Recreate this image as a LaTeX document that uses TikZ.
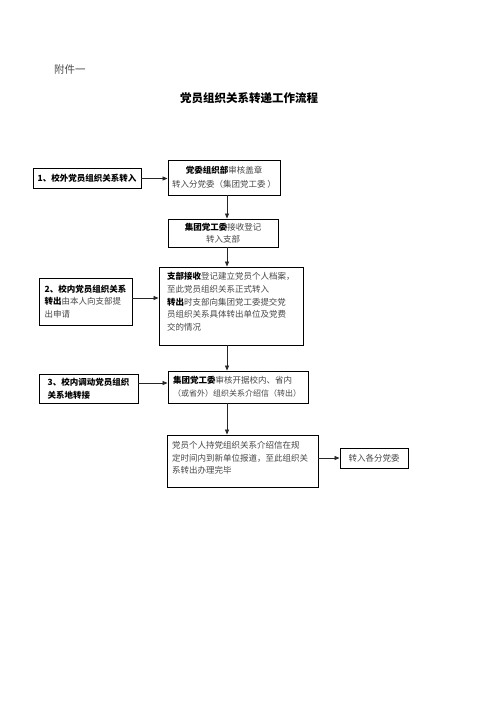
\documentclass[tikz,border=0pt]{standalone}
\usepackage{fontspec}
\setmainfont{Noto Sans CJK SC}
\usetikzlibrary{arrows.meta}
\XeTeXlinebreaklocale "zh"
\XeTeXlinebreakskip=0pt plus 1pt
\newcommand\jl[2]{\hbox to #1pt{#2}}
\newcommand\bk[1]{{\bfseries\color{black}#1}}
\begin{document}
\begin{tikzpicture}[x=1pt,y=-1pt,
  every node/.style={font=\fontsize{8.5pt}{12.6pt}\selectfont},
  box/.style={draw=black, line width=0.9pt, rectangle, inner sep=0pt, align=center, text=black!72},
  txt/.style={inner sep=0pt, align=left, text=black!72},
  arr/.style={draw=black!85, line width=0.8pt, -{Triangle[length=5pt,width=4pt]}}]
\fill[white] (0,0) rectangle (496,702);
\useasboundingbox (0,0) rectangle (496,702);

\node[font=\fontsize{10.5pt}{12pt}\selectfont, text=black!70, anchor=west, inner sep=0pt] (att) at (54,70) {附件一};
\node[font=\fontsize{11.5pt}{14pt}\selectfont\bfseries, anchor=west, inner sep=0pt] (title) at (180,98) {党员组织关系转递工作流程};

\node[box, minimum width=108pt, minimum height=20pt] (A) at (87,178.5) {\bk{1、校外党员组织关系转入}};
\node[box, minimum width=112pt, minimum height=35pt, font=\fontsize{8.5pt}{14.3pt}\selectfont] (B) at (224,177.5) {\bk{党委组织部}审核盖章\\转入分党委（集团党工委 ）};
\node[box, minimum width=110pt, minimum height=28pt] (C) at (223,233) {\bk{集团党工委}接收登记\\转入支部};
\node[box, align=left, minimum width=93pt, minimum height=47pt] (D) at (85.5,301.5) {\bk{2、校内党员组织关系}\\\bk{转出}由本人向支部提\\出申请};
\node[box, minimum width=144pt, minimum height=78pt] (E) at (231,306) {};
\node[txt] (Et) at (233,301.7) {\jl{131}{\bk{支部接收}登记建立党员个人档案，}\\至此党员组织关系正式转入\\\jl{130}{\bk{转出}时支部向集团党工委提交党}\\\jl{132}{员组织关系具体转出单位及党费}\\交的情况};
\node[box, align=left, minimum width=99pt, minimum height=29pt] (F) at (88.5,388.5) {\bk{3、校内调动党员组织}\\\bk{关系地转接}};
\node[box, align=left, minimum width=140pt, minimum height=32pt] (G) at (238,387) {\jl{130}{\bk{集团党工委}审核开据校内、省内}\\\jl{128}{\fontsize{8pt}{12.6pt}\selectfont（或省外）组织关系介绍信（转出）}};
\node[box, minimum width=151pt, minimum height=52pt] (H) at (242.5,461) {};
\node[txt] (Ht) at (240.5,457.8) {\jl{137}{党员个人持党组织关系介绍信在规}\\\jl{137}{定时间内到新单位报道，至此组织关}\\系转出办理完毕};
\node[box, minimum width=68pt, minimum height=20pt] (I) at (374,458) {转入各分党委};

\coordinate (spine) at (227,0);
\draw[arr] (A.east) -- (A.east -| B.west);
\draw[arr] (spine |- B.south) -- (spine |- C.north);
\draw[arr] (spine |- C.south) -- (spine |- E.north);
\draw[arr] ([yshift=3.5pt]D.east) -- ([yshift=3.5pt]D.east -| E.west);
\draw[arr] (spine |- E.south) -- (spine |- G.north);
\draw[arr] ([yshift=5.5pt]F.east) -- ([yshift=5.5pt]F.east -| G.west);
\draw[arr] (spine |- G.south) -- (spine |- H.north);
\draw[arr] (I.west -| H.east) -- (I.west);
\end{tikzpicture}
\end{document}
